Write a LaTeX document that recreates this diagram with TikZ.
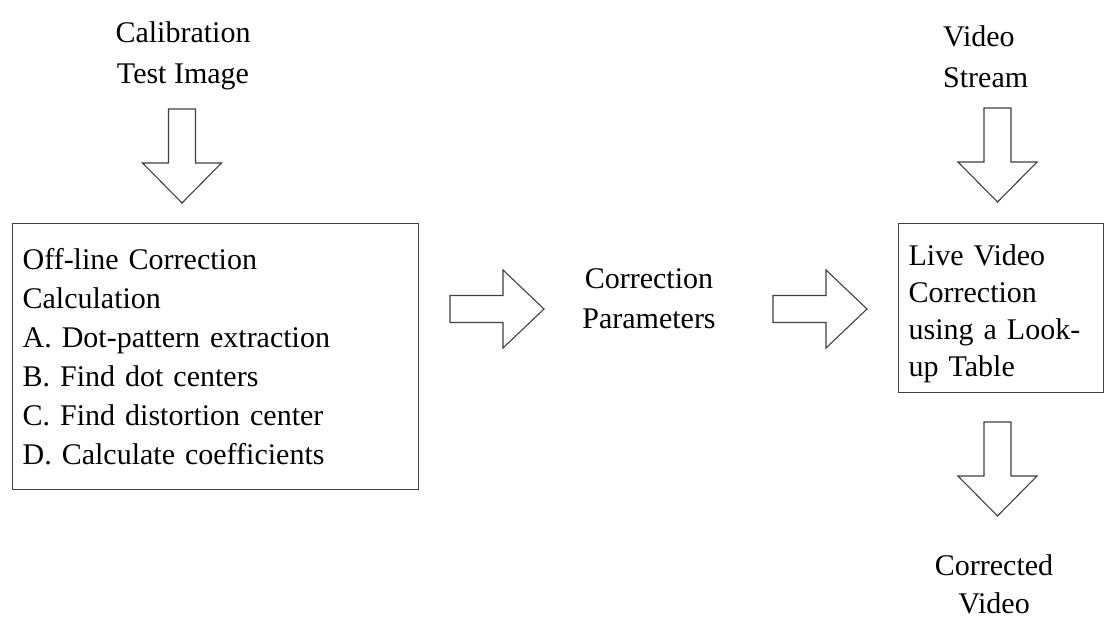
\documentclass[tikz,border=0pt]{standalone}
\usepackage{fontspec}
\setmainfont{Liberation Serif}
\usetikzlibrary{calc}
\definecolor{linegray}{RGB}{64,64,64}
\tikzset{
  stepbox/.style={draw=linegray, line width=1.3pt, inner xsep=10pt, inner ysep=0pt,
                  align=left, anchor=north west},
  lbl/.style={font=\fontsize{30}{41}\selectfont, align=center, inner sep=0pt, anchor=base},
  fatarrow/.style={draw=linegray, line width=1.1pt, fill=white, line join=miter},
}
% hollow block arrows, drawn from their tail coordinate
\newcommand{\fatdown}[1]{%
  \draw[fatarrow] ($(#1)+(-13.5,0)$) -- ++(27,0) -- ++(0,54) -- ++(26,0)
    -- ++(-39.5,40) -- ++(-39.5,-40) -- ++(26,0) -- cycle;}
\newcommand{\fatright}[1]{%
  \draw[fatarrow] ($(#1)+(0,-13.5)$) -- ++(53,0) -- ++(0,-25.5)
    -- ++(41,39) -- ++(-41,39) -- ++(0,-25.5) -- ++(-53,0) -- cycle;}
\begin{document}
\begin{tikzpicture}[x=1pt, y=-1pt]
  \useasboundingbox (0,0) rectangle (1107,618);
  % inputs (placed by the baseline of their last line)
  \node[lbl] (calib) at (183,83) {Calibration\\Test Image};
  \node[lbl, align=left, anchor=base west] (video) at (943,87) {Video\\Stream};
  % processing boxes
  \node[stepbox, minimum width=406pt, minimum height=266pt, text width=386pt,
        font=\fontsize{30}{39}\selectfont] (offline) at (12,223)
    {Off-line Correction\\Calculation\\A. Dot-pattern extraction\\B. Find dot centers\\
     C. Find distortion center\\D. Calculate coefficients};
  \node[stepbox, minimum width=205pt, minimum height=169pt, text width=185pt,
        font=\fontsize{30}{37}\selectfont] (live) at (898,223)
    {\rule{0pt}{33pt}Live Video\\Correction\\using a Look-\\up Table};
  \node[lbl, font=\fontsize{30}{40}\selectfont] (params) at (649,328) {Correction\\Parameters};
  \node[lbl, font=\fontsize{30}{38}\selectfont] (output) at (994,613) {Corrected\\Video};
  % block arrows
  \coordinate (t1) at (182,109);
  \coordinate (t2) at (997.5,108);
  \coordinate (t3) at (997.5,422);
  \coordinate (r1) at (450,309);
  \coordinate (r2) at (773,309);
  \fatdown{t1}
  \fatdown{t2}
  \fatdown{t3}
  \fatright{r1}
  \fatright{r2}
\end{tikzpicture}
\end{document}
